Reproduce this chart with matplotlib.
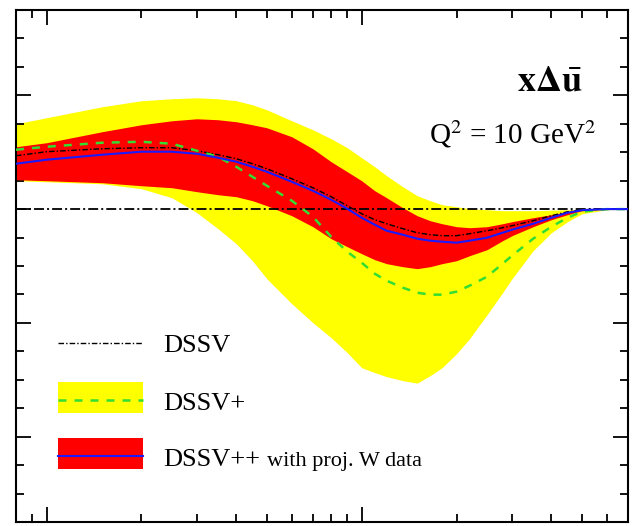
import matplotlib
matplotlib.use("Agg")
import matplotlib.pyplot as plt
from matplotlib.patches import Rectangle
from matplotlib.lines import Line2D
from matplotlib.ticker import LogLocator, MultipleLocator, NullFormatter

# momentum fraction x
x = [0.008, 0.01, 0.015, 0.02, 0.025, 0.03, 0.035, 0.04, 0.045, 0.05, 0.06, 0.07,
     0.08, 0.09, 0.1, 0.11, 0.12, 0.135, 0.15, 0.165, 0.18, 0.2, 0.22, 0.25,
     0.28, 0.3, 0.35, 0.4, 0.45, 0.5, 0.6, 0.7]

# DSSV central fit
dssv = [0.00938, 0.01009, 0.01061, 0.01079, 0.01079, 0.01026, 0.00956, 0.00886,
        0.00798, 0.00710, 0.00534, 0.00376, 0.00218, 0.00060, -0.00081, -0.00186,
        -0.00257, -0.00344, -0.00415, -0.00450, -0.00467, -0.00467, -0.00432,
        -0.00380, -0.00327, -0.00292, -0.00204, -0.00116, -0.00046, -0.00011,
        0.0, 0.0]

# DSSV+ central fit and uncertainty band
dssv_plus = [0.01044, 0.01096, 0.01167, 0.01184, 0.01149, 0.01026, 0.00921,
             0.00745, 0.00569, 0.00411, 0.00148, -0.00134, -0.00485, -0.00748,
             -0.00942, -0.01135, -0.01258, -0.01381, -0.01469, -0.01504, -0.01504,
             -0.01451, -0.01346, -0.01188, -0.00959, -0.00819, -0.00520, -0.00309,
             -0.00151, -0.00046, 0.0, 0.0]
plus_hi = [0.01500, 0.01606, 0.01799, 0.01905, 0.01940, 0.01957, 0.01940, 0.01905,
           0.01834, 0.01746, 0.01553, 0.01395, 0.01237, 0.01079, 0.00903, 0.00745,
           0.00587, 0.00394, 0.00235, 0.00148, 0.00077, 0.00042, 0.00007, -0.00011,
           -0.00028, -0.00028, -0.00028, -0.00019, -0.00011, 0.0, 0.0, 0.0]
plus_lo = [0.00499, 0.00481, 0.00446, 0.00358, 0.00200, -0.00063, -0.00344,
           -0.00608, -0.00907, -0.01223, -0.01662, -0.01996, -0.02260, -0.02523,
           -0.02787, -0.02874, -0.02945, -0.03015, -0.03059, -0.02927, -0.02787,
           -0.02541, -0.02277, -0.01855, -0.01469, -0.01223, -0.00731, -0.00415,
           -0.00221, -0.00081, -0.00011, 0.0]

# DSSV++ (with projected W data) central fit and uncertainty band
dssv_pp = [0.00798, 0.00868, 0.00956, 0.01009, 0.01009, 0.00973, 0.00903, 0.00833,
           0.00745, 0.00657, 0.00481, 0.00323, 0.00165, 0.00007, -0.00151,
           -0.00274, -0.00380, -0.00450, -0.00520, -0.00555, -0.00573, -0.00590,
           -0.00555, -0.00503, -0.00415, -0.00362, -0.00257, -0.00151, -0.00063,
           -0.00019, 0.0, 0.0]
pp_hi = [0.01096, 0.01167, 0.01360, 0.01483, 0.01553, 0.01588, 0.01571, 0.01536,
         0.01483, 0.01430, 0.01272, 0.01061, 0.00833, 0.00657, 0.00499, 0.00323,
         0.00200, 0.00025, -0.00116, -0.00204, -0.00257, -0.00309, -0.00327,
         -0.00309, -0.00257, -0.00221, -0.00151, -0.00098, -0.00046, -0.00011,
         0.0, 0.0]
pp_lo = [0.00517, 0.00499, 0.00464, 0.00411, 0.00376, 0.00306, 0.00253, 0.00218,
         0.00148, 0.00060, -0.00116, -0.00309, -0.00520, -0.00661, -0.00784,
         -0.00889, -0.00959, -0.01012, -0.01047, -0.01012, -0.00959, -0.00907,
         -0.00819, -0.00713, -0.00555, -0.00467, -0.00309, -0.00186, -0.00098,
         -0.00028, 0.0, 0.0]

plt.rcParams["font.family"] = ["Liberation Serif", "DejaVu Serif"]
plt.rcParams["mathtext.fontset"] = "stix"

YELLOW = "#ffff00"
RED = "#ff0000"
GREEN = "#33dd33"
BLUE = "#1a1aff"

fig = plt.figure(figsize=(6.32, 5.26), dpi=100)
ax = fig.add_axes([16 / 632, 4 / 526, 612 / 632, 512 / 526])

ax.fill_between(x, plus_lo, plus_hi, color=YELLOW, lw=0, zorder=1)
ax.fill_between(x, pp_lo, pp_hi, color=RED, lw=0, zorder=2)
ax.axhline(0, color="black", lw=1.3, ls=(0, (5.5, 1.7, 1.1, 1.7)), zorder=3)
ax.plot(x, dssv, color="black", lw=1.0, ls=(0, (4, 1.5, 1, 1.5)), zorder=4)
ax.plot(x, dssv_plus, color=GREEN, lw=1.8, ls=(0, (3.2, 3.2)), zorder=5)
ax.plot(x, dssv_pp, color=BLUE, lw=1.5, zorder=6)

ax.set_xscale("log")
ax.set_xlim(0.008, 0.7)
ax.set_ylim(-0.055, 0.035)
ax.xaxis.set_major_locator(LogLocator(base=10, numticks=10))
ax.xaxis.set_minor_locator(LogLocator(base=10, subs=range(2, 10), numticks=20))
ax.yaxis.set_major_locator(MultipleLocator(0.02))
ax.yaxis.set_minor_locator(MultipleLocator(0.005))
ax.xaxis.set_major_formatter(NullFormatter())
ax.xaxis.set_minor_formatter(NullFormatter())
ax.yaxis.set_major_formatter(NullFormatter())
ax.tick_params(which="both", direction="in", top=True, right=True, width=1.3,
               labelbottom=False, labelleft=False)
ax.tick_params(which="major", length=11)
ax.tick_params(which="minor", length=6)
for s in ax.spines.values():
    s.set_linewidth(1.5)

# Legend drawn by hand in axes coordinates
tr = ax.transAxes
x0, w = 0.0686, 0.139
ax.add_line(Line2D([x0, x0 + w], [0.3496, 0.3496], transform=tr, color="black",
                   lw=1.0, ls=(0, (4, 1.5, 1, 1.5)), zorder=7))
ax.add_patch(Rectangle((x0, 0.2129), w, 0.0605, transform=tr, color=YELLOW,
                       lw=0, zorder=7))
ax.add_line(Line2D([x0, x0 + w], [0.2383, 0.2383], transform=tr, color=GREEN,
                   lw=1.8, ls=(0, (3.2, 3.2)), zorder=8))
ax.add_patch(Rectangle((x0, 0.1035), w, 0.0605, transform=tr, color=RED,
                       lw=0, zorder=7))
ax.add_line(Line2D([x0, x0 + w], [0.1289, 0.1289], transform=tr, color=BLUE,
                   lw=1.5, zorder=8))

tx = 0.240
ax.text(tx, 0.332, "DSSV", transform=tr, fontsize=19, va="baseline")
ax.text(tx, 0.219, "DSSV+", transform=tr, fontsize=19, va="baseline")
ax.text(tx, 0.110, "DSSV++", transform=tr, fontsize=19, va="baseline")
ax.text(0.410, 0.110, "with proj. W data", transform=tr, fontsize=16,
        va="baseline")

ax.text(0.925, 0.842, r"$\mathbf{x\Delta}\bar{\mathbf{u}}$", transform=tr,
        fontsize=26, ha="right", va="baseline")
ax.text(0.949, 0.740, r"Q$^2$ = 10 GeV$^2$", transform=tr, fontsize=21,
        ha="right", va="baseline")

fig.savefig("out.png", dpi=100)
